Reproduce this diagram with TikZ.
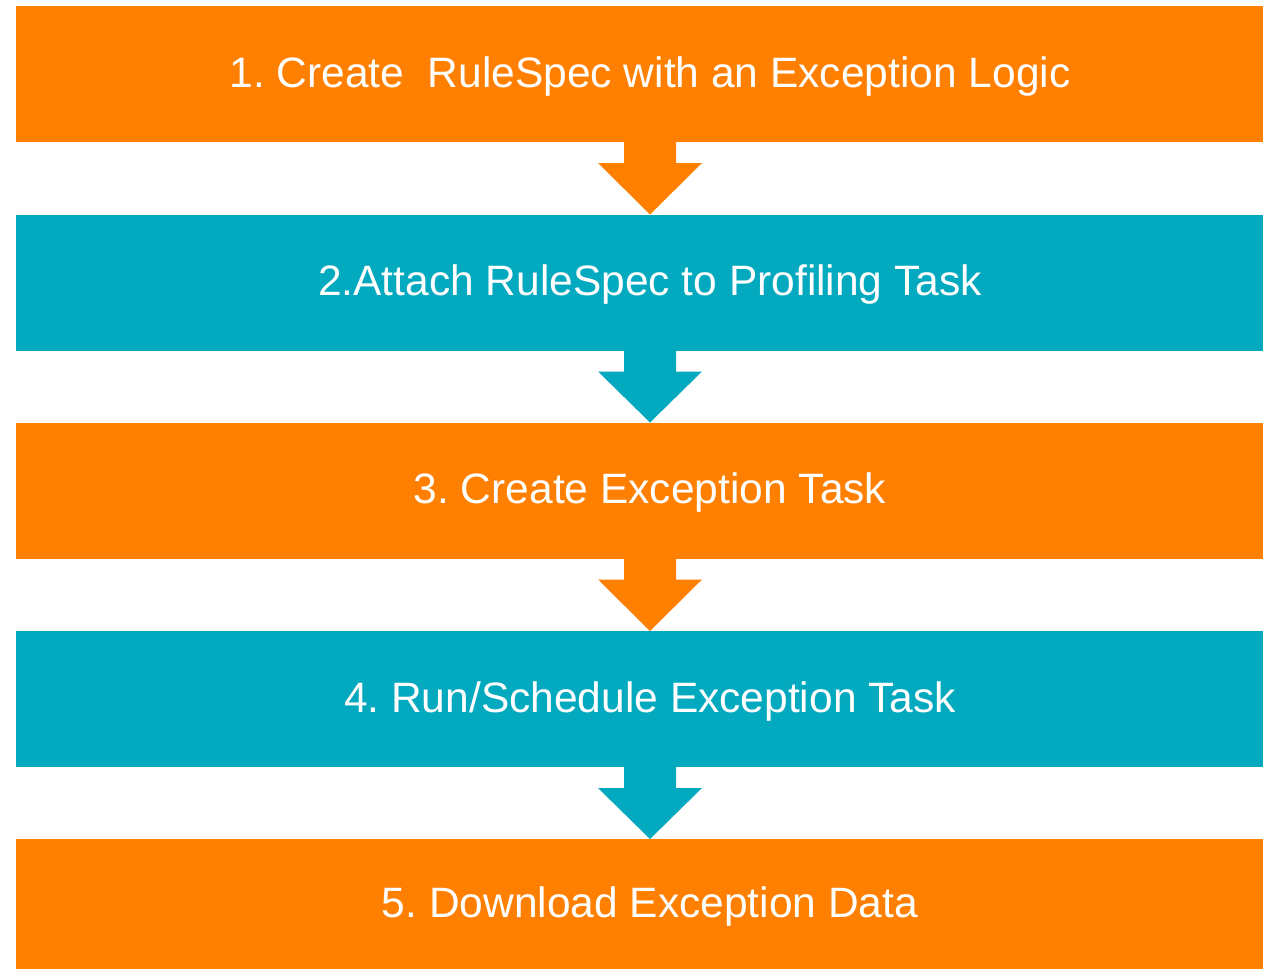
\documentclass[tikz,border=0pt]{standalone}
\usepackage{fontspec}
\setmainfont{Liberation Sans}
\usetikzlibrary{calc}
\definecolor{orng}{HTML}{FF7F00}
\definecolor{teal}{HTML}{03A9BE}
\tikzset{
  box/.style={fill=#1, draw=none, minimum width=1247pt, minimum height=136pt, inner sep=0pt, outer sep=0pt},
  txt/.style={text=white, font=\frenchspacing\fontsize{42.5}{50}\selectfont, inner sep=0pt},
}
\begin{document}
\begin{tikzpicture}[x=1pt,y=-1pt]
\useasboundingbox (0,0) rectangle (1263,970);
\node[box=orng] (b1) at (639.5,74) {};
\node[box=teal] (b2) at (639.5,282.5) {};
\node[box=orng] (b3) at (639.5,490.5) {};
\node[box=teal] (b4) at (639.5,699) {};
\node[box=orng, minimum height=130pt] (b5) at (639.5,904) {};
\node[txt] (t1) at ([xshift=10.5pt,yshift=-2.5pt]b1.center) {1. Create\ \ RuleSpec with an Exception Logic};
\node[txt] (t2) at ([xshift=10.5pt,yshift=-2.5pt]b2.center) {2.Attach RuleSpec to Profiling Task};
\node[txt] (t3) at ([xshift=10.5pt,yshift=-2.5pt]b3.center) {3. Create Exception Task};
\node[txt] (t4) at ([xshift=10.5pt,yshift=-2.5pt]b4.center) {4. Run/Schedule Exception Task};
\node[txt] (t5) at ([xshift=10.5pt,yshift=-2.5pt]b5.center) {5. Download Exception Data};
\foreach \a/\b/\c in {b1/b2/orng, b2/b3/teal, b3/b4/orng, b4/b5/teal}{
  \coordinate (s) at ([xshift=10.5pt]\a.south);
  \coordinate (e) at ([xshift=10.5pt]\b.north);
  \fill[\c] ($(s)+(-26,0)$) -- ($(s)+(-26,21)$) -- ($(s)+(-52,21)$) -- (e) -- ($(s)+(52,21)$) -- ($(s)+(26,21)$) -- ($(s)+(26,0)$) -- cycle;
}
\end{tikzpicture}
\end{document}
